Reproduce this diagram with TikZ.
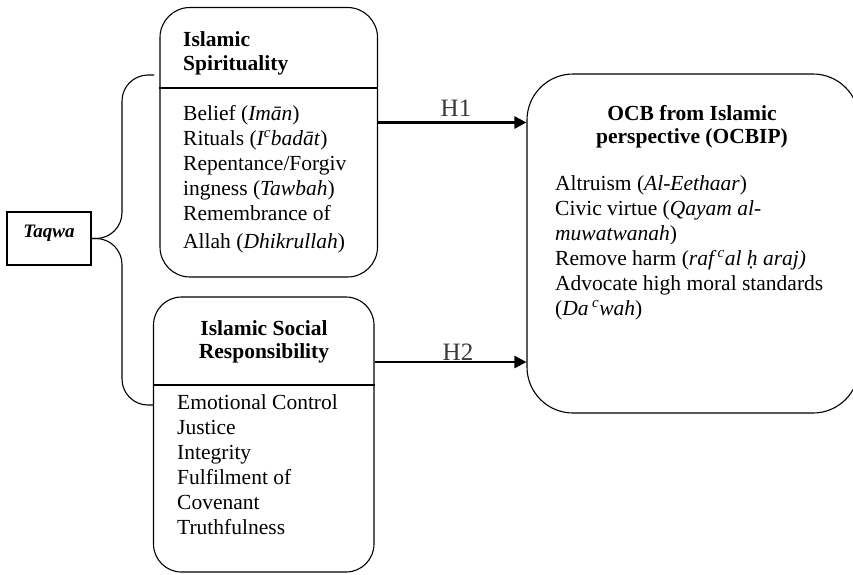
\documentclass[tikz,border=0pt]{standalone}
\usepackage{fontspec}
\setmainfont{Liberation Serif}
\usetikzlibrary{arrows.meta}
\newcommand\tlines[1]{\begin{tabular}[t]{@{}l@{}}#1\end{tabular}}
\newcommand\tclines[1]{\begin{tabular}[t]{@{}c@{}}#1\end{tabular}}
\definecolor{hgray}{HTML}{3A3A3A}
\begin{document}
\begin{tikzpicture}[x=1pt,y=-1pt,
  box/.style={draw, line width=1.1pt, inner sep=0pt},
  body/.style={anchor=base west, inner sep=0pt, font=\fontsize{21.5}{25}\selectfont},
  head/.style={anchor=base, inner sep=0pt, font=\fontsize{21.5}{23.5}\selectfont\bfseries},
  link/.style={line width=1.1pt, rounded corners=26pt},
  divider/.style={line width=1.1pt},
  arr/.style={line width=2.6pt, -{Triangle[length=12pt,width=12pt]}},
  hlab/.style={anchor=base, inner sep=0pt, text=hgray, font=\fontsize{25}{25}\selectfont}]
\useasboundingbox (0,0) rectangle (853,574);
\clip (0,0) rectangle (853,574);
\fill[white] (0,0) rectangle (853,574);

% boxes
\node[box, rounded corners=30pt, minimum width=217.5pt, minimum height=269.5pt] (spir) at (268.75,142.25) {};
\node[box, rounded corners=28pt, minimum width=220.5pt, minimum height=275pt] (soc) at (263.75,434.5) {};
\node[box, rounded corners=46pt, minimum width=332pt, minimum height=339pt] (ocb) at (693,243.5) {};
\node[box, minimum width=84pt, minimum height=53pt] (taqwa) at (49,238.5) {};

% dividers
\coordinate (d1) at (0,88);
\coordinate (d2) at (0,385);
\draw[divider] (spir.west |- d1) -- (spir.east |- d1);
\draw[divider] (soc.west |- d2) -- (soc.east |- d2);

% texts
\node[anchor=base, inner sep=0pt, font=\fontsize{19}{19}\selectfont\bfseries\itshape] (taqwat) at (49,237) {Taqwa};
\node[head, anchor=base west] (spirh) at (183,46.5) {\tlines{Islamic\\Spirituality}};
\node[body] (spirb) at (183,120) {\tlines{Belief (\textit{Imān})\\Rituals (\textit{I\textsuperscript{c}badāt})\\Repentance/Forgiv\\ingness (\textit{Tawbah})\\Remembrance of\\[3pt]Allah (\textit{Dhikrullah})}};
\node[head] (soch) at (264,335) {\tclines{Islamic Social\\Responsibility}};
\node[body] (socb) at (177,409) {\tlines{Emotional Control\\Justice\\Integrity\\Fulfilment of\\Covenant\\Truthfulness}};
\node[head] (ocbh) at (692,120) {\tclines{OCB from Islamic\\perspective (OCBIP)}};
\node[body] (ocbb) at (555,190) {\tlines{Altruism (\textit{Al-Eethaar})\\Civic virtue (\textit{Qayam al-}\\\textit{muwatwanah})\\Remove harm (\textit{raf\,\textsuperscript{c}al ḥ araj)}\\Advocate high moral standards\\(\textit{Da\,\textsuperscript{c}wah})}};

% brace connectors
\coordinate (bx) at (122,0);
\coordinate (bt) at (154,75);
\coordinate (bb) at (154,405);
\draw[link] (taqwa.east) -- (taqwa.east -| bx) -- (bx |- bt) -- (bt);
\draw[link] (taqwa.east) -- (taqwa.east -| bx) -- (bx |- bb) -- (soc.west |- bb);

% arrows
\coordinate (h1) at (0,122.5);
\coordinate (h2) at (0,362);
\draw[arr] (spir.east |- h1) -- (ocb.west |- h1);
\draw[arr] (soc.east |- h2) -- (ocb.west |- h2);
\node[hlab] (h1l) at (456,116) {H1};
\node[hlab] (h2l) at (458,360) {H2};
\end{tikzpicture}
\end{document}
